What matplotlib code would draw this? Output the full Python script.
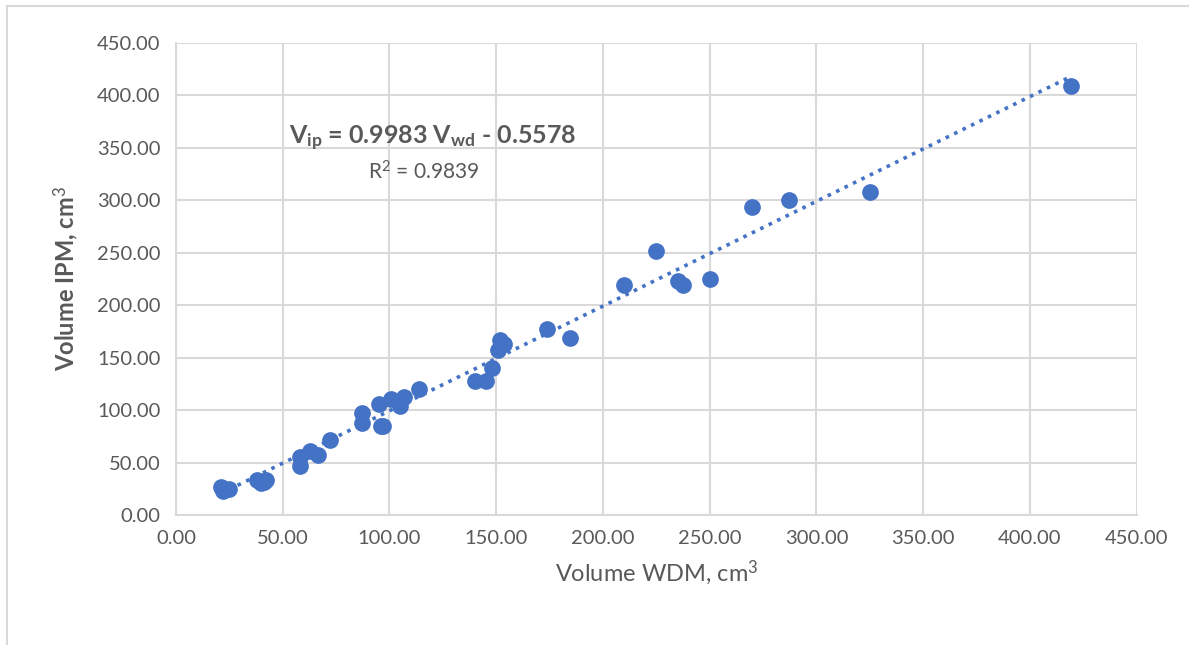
import numpy as np
import matplotlib.pyplot as plt

plt.rcParams['font.family'] = ['Lato', 'DejaVu Sans']
plt.rcParams['mathtext.fontset'] = 'custom'
plt.rcParams['mathtext.rm'] = 'Lato'
plt.rcParams['mathtext.it'] = 'Lato:italic'
plt.rcParams['mathtext.bf'] = 'Lato:bold'

# volumes
vol_wdm = [21, 22, 25, 38, 40, 42, 41, 58, 63, 66.7, 58, 72,
           87, 87, 95, 96, 97, 100.5, 105, 107, 114,
           140, 145, 148, 150.7, 152, 153.5, 174, 184.5,
           210, 225, 235, 237.6, 250, 270, 287, 325, 419]
vol_ipm = [27, 23, 25, 33, 30, 33, 31, 55, 61, 57, 47, 71,
           97, 88, 106, 85, 85, 111, 104, 112, 120,
           128, 128, 140, 157.5, 167, 163, 177.6, 169,
           219, 252, 222.6, 219, 225, 294, 300, 307.5, 409]

slope = 0.9983
intercept = -0.5578

BLUE = '#4472C4'
GRAY = '#595959'
GRID = '#D9D9D9'


def main():
    fig = plt.figure(figsize=(11.89, 6.45), dpi=100)
    ax = fig.add_axes([0.148, 0.2016, 0.808, 0.732])

    xs = np.array([min(vol_wdm), max(vol_wdm)])
    ax.plot(xs, slope * xs + intercept, linestyle=(0, (1, 1.6)), color=BLUE,
            linewidth=2.6, zorder=2)
    ax.scatter(vol_wdm, vol_ipm, s=145, color=BLUE, zorder=3, linewidths=0)

    ax.set_xlim(0, 450)
    ax.set_ylim(0, 450)
    ticks = np.arange(0, 451, 50)
    ax.set_xticks(ticks)
    ax.set_yticks(ticks)
    ax.set_xticklabels([f'{t:.2f}' for t in ticks])
    ax.set_yticklabels([f'{t:.2f}' for t in ticks])
    ax.tick_params(length=0, labelsize=14.5, colors=GRAY, pad=11)
    ax.grid(True, color=GRID, linewidth=1.5)
    ax.set_axisbelow(True)
    for side in ['top', 'right']:
        ax.spines[side].set_visible(False)
    for side in ['left', 'bottom']:
        ax.spines[side].set_color(GRID)
        ax.spines[side].set_linewidth(1.5)

    ax.set_xlabel('Volume WDM, cm$^3$', fontsize=17, color=GRAY, labelpad=8)
    ax.set_ylabel('Volume IPM, cm$^3$', fontsize=17, color=GRAY,
                  fontweight='bold', labelpad=12)

    ax.text(53, 359, r'$\mathbf{V_{ip}}$ = 0.9983 $\mathbf{V_{wd}}$ - 0.5578',
            fontsize=18, fontweight='bold', color=GRAY, va='center')
    ax.text(90, 327, 'R$^2$ = 0.9839', fontsize=15, color=GRAY, va='center')

    # light frame around the chart area
    fig.add_artist(plt.Line2D([0.006, 1.0], [0.991, 0.991], color=GRID,
                              linewidth=1.5, transform=fig.transFigure))
    fig.add_artist(plt.Line2D([0.006, 0.006], [0.0, 0.991], color=GRID,
                              linewidth=1.5, transform=fig.transFigure))

    fig.savefig('out.png', dpi=100)


if __name__ == '__main__':
    main()
